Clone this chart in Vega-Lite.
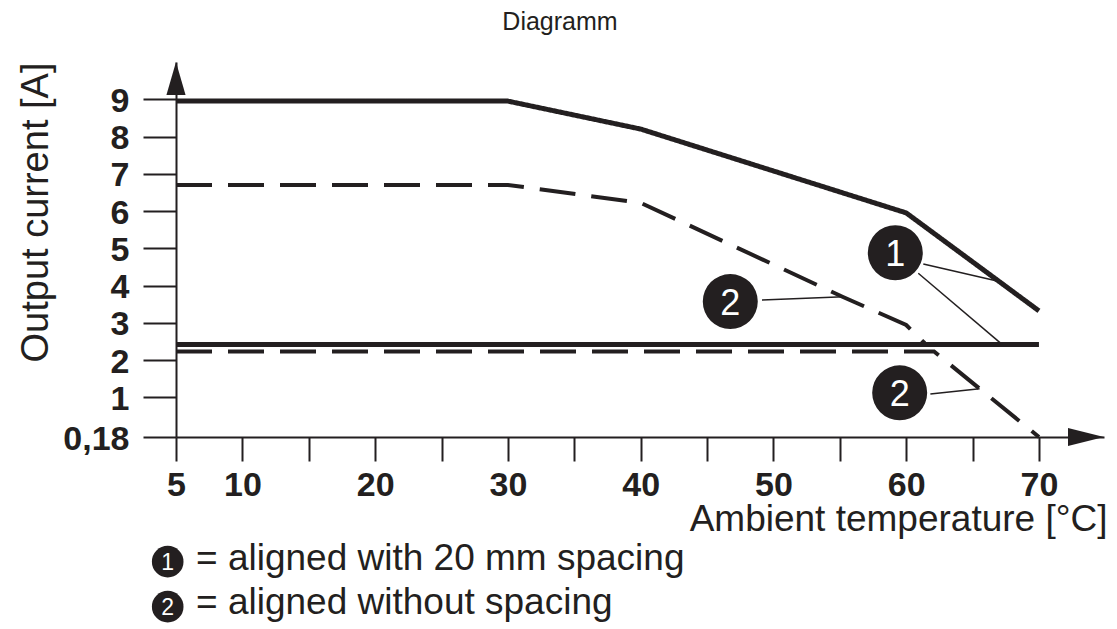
{
  "$schema": "https://vega.github.io/schema/vega-lite/v6.json",
  "width": 928,
  "height": 375,
  "autosize": {"type": "none"},
  "padding": {"left": 176, "top": 62, "right": 13, "bottom": 192},
  "background": "white",
  "title": {"text": "Diagramm", "anchor": "middle", "dx": -80, "offset": 27, "fontSize": 25, "fontWeight": "normal", "font": "Liberation Sans", "color": "#231f20"},
  "config": {"view": {"stroke": null}},
  "datasets": {
    "curves": [
      {"curve": "1 top", "config": "1", "t": 5, "I": 8.95},
      {"curve": "1 top", "config": "1", "t": 30, "I": 8.95},
      {"curve": "1 top", "config": "1", "t": 40, "I": 8.2},
      {"curve": "1 top", "config": "1", "t": 60, "I": 5.95},
      {"curve": "1 top", "config": "1", "t": 70, "I": 3.32},
      {"curve": "1 bottom", "config": "1", "t": 5, "I": 2.42},
      {"curve": "1 bottom", "config": "1", "t": 70, "I": 2.42},
      {"curve": "2 top", "config": "2", "t": 5, "I": 6.7},
      {"curve": "2 top", "config": "2", "t": 30, "I": 6.7},
      {"curve": "2 top", "config": "2", "t": 40, "I": 6.22},
      {"curve": "2 top", "config": "2", "t": 55.2, "I": 3.7},
      {"curve": "2 top", "config": "2", "t": 60, "I": 2.94},
      {"curve": "2 top", "config": "2", "t": 61.4, "I": 2.45},
      {"curve": "2 bottom", "config": "2", "t": 5, "I": 2.23},
      {"curve": "2 bottom", "config": "2", "t": 62.1, "I": 2.23},
      {"curve": "2 bottom", "config": "2", "t": 70, "I": 0.18}
    ],
    "leaders": [
      {"t": 61.29, "I": 4.58, "t2": 66.85, "I2": 4.12},
      {"t": 60.91, "I": 4.33, "t2": 67.22, "I2": 2.42},
      {"t": 61.82, "I": 1.09, "t2": 65.53, "I2": 1.23},
      {"t": 49.14, "I": 3.61, "t2": 55.29, "I2": 3.7}
    ],
    "markers": [
      {"num": "1", "t": 59.18, "I": 4.88},
      {"num": "2", "t": 59.51, "I": 1.12},
      {"num": "2", "t": 46.75, "I": 3.57}
    ],
    "legend": [
      {"num": "1", "text": "= aligned with 20 mm spacing", "t": 4.375, "I": -2.395, "tt": 6.507, "It": -2.567},
      {"num": "2", "text": "= aligned without spacing", "t": 4.375, "I": -3.324, "tt": 6.507, "It": -3.475}
    ],
    "yarrow": [{"t": 5, "I": 10}],
    "xarrow": [{"t": 74.9, "I": 0.18}]
  },
  "layer": [
    {
      "data": {"name": "curves"},
      "mark": {"type": "line", "color": "#231f20", "strokeCap": "butt", "strokeJoin": "miter"},
      "encoding": {
        "x": {
          "field": "t", "type": "quantitative",
          "scale": {"domain": [5, 74.9], "nice": false, "zero": false},
          "axis": {
            "values": [5, 10, 15, 20, 25, 30, 35, 40, 45, 50, 55, 60, 65, 70],
            "labelExpr": "datum.value == 5 || datum.value % 10 == 0 ? datum.label : ''",
            "grid": false,
            "domainColor": "#231f20", "domainWidth": 2,
            "tickColor": "#231f20", "tickWidth": 2, "tickSize": 24,
            "labelFont": "Liberation Sans", "labelFontSize": 34, "labelFontWeight": "bold", "labelColor": "#231f20",
            "labelPadding": 7, "labelFlush": false, "labelOverlap": false,
            "title": "Ambient temperature [°C]",
            "titleFont": "Liberation Sans", "titleFontSize": 37, "titleFontWeight": "normal", "titleColor": "#231f20",
            "titleX": 931, "titleY": 93, "titleAlign": "right", "titleBaseline": "alphabetic", "titleAnchor": "end"
          }
        },
        "y": {
          "field": "I", "type": "quantitative",
          "scale": {"domain": [0.18, 1, 10], "range": [375, 335.3, 0], "nice": false, "zero": false},
          "axis": {
            "values": [0.18, 1, 2, 3, 4, 5, 6, 7, 8, 9],
            "labelExpr": "datum.value == 0.18 ? '0,18' : datum.label",
            "grid": false,
            "domainColor": "#231f20", "domainWidth": 2,
            "tickColor": "#231f20", "tickWidth": 2, "tickSize": 33,
            "labelFont": "Liberation Sans", "labelFontSize": 34, "labelFontWeight": "bold", "labelColor": "#231f20",
            "labelPadding": 14, "labelOffset": 2, "labelFlush": false, "labelOverlap": false,
            "title": "Output current [A]",
            "titleFont": "Liberation Sans", "titleFontSize": 38, "titleFontWeight": "normal", "titleColor": "#231f20",
            "titleX": -129, "titleY": 150, "titleAngle": -90, "titleAlign": "center", "titleBaseline": "alphabetic"
          }
        },
        "detail": {"field": "curve"},
        "strokeDash": {"field": "config", "type": "nominal", "scale": {"domain": ["1", "2"], "range": [[1, 0], [36, 16]]}, "legend": null},
        "strokeWidth": {"field": "config", "type": "nominal", "scale": {"domain": ["1", "2"], "range": [5, 4]}, "legend": null}
      }
    },
    {
      "data": {"name": "leaders"},
      "mark": {"type": "rule", "color": "#231f20", "strokeWidth": 1.5},
      "encoding": {
        "x": {"field": "t", "type": "quantitative"},
        "y": {"field": "I", "type": "quantitative"},
        "x2": {"field": "t2"},
        "y2": {"field": "I2"}
      }
    },
    {
      "data": {"name": "markers"},
      "mark": {"type": "point", "shape": "circle", "filled": true, "color": "#231f20", "opacity": 1, "size": 3025},
      "encoding": {
        "x": {"field": "t", "type": "quantitative"},
        "y": {"field": "I", "type": "quantitative"}
      }
    },
    {
      "data": {"name": "markers"},
      "mark": {"type": "text", "color": "white", "font": "Liberation Sans", "fontSize": 36, "align": "center", "baseline": "middle", "dy": 2},
      "encoding": {
        "x": {"field": "t", "type": "quantitative"},
        "y": {"field": "I", "type": "quantitative"},
        "text": {"field": "num"}
      }
    },
    {
      "data": {"name": "legend"},
      "mark": {"type": "point", "shape": "circle", "filled": true, "color": "#231f20", "opacity": 1, "size": 1000},
      "encoding": {
        "x": {"field": "t", "type": "quantitative"},
        "y": {"field": "I", "type": "quantitative"}
      }
    },
    {
      "data": {"name": "legend"},
      "mark": {"type": "text", "color": "white", "font": "Liberation Sans", "fontSize": 23, "align": "center", "baseline": "middle", "dy": 1},
      "encoding": {
        "x": {"field": "t", "type": "quantitative"},
        "y": {"field": "I", "type": "quantitative"},
        "text": {"field": "num"}
      }
    },
    {
      "data": {"name": "legend"},
      "mark": {"type": "text", "color": "#231f20", "font": "Liberation Sans", "fontSize": 37, "align": "left", "baseline": "alphabetic"},
      "encoding": {
        "x": {"field": "tt", "type": "quantitative"},
        "y": {"field": "It", "type": "quantitative"},
        "text": {"field": "text"}
      }
    },
    {
      "data": {"name": "yarrow"},
      "mark": {"type": "point", "shape": "M0,0L-0.29,1L0.29,1Z", "filled": true, "color": "#231f20", "opacity": 1, "size": 4356, "strokeWidth": 0},
      "encoding": {
        "x": {"field": "t", "type": "quantitative"},
        "y": {"field": "I", "type": "quantitative"}
      }
    },
    {
      "data": {"name": "xarrow"},
      "mark": {"type": "point", "shape": "M0,0L-1,-0.25L-1,0.25Z", "filled": true, "color": "#231f20", "opacity": 1, "size": 5184, "strokeWidth": 0},
      "encoding": {
        "x": {"field": "t", "type": "quantitative"},
        "y": {"field": "I", "type": "quantitative"}
      }
    }
  ]
}
